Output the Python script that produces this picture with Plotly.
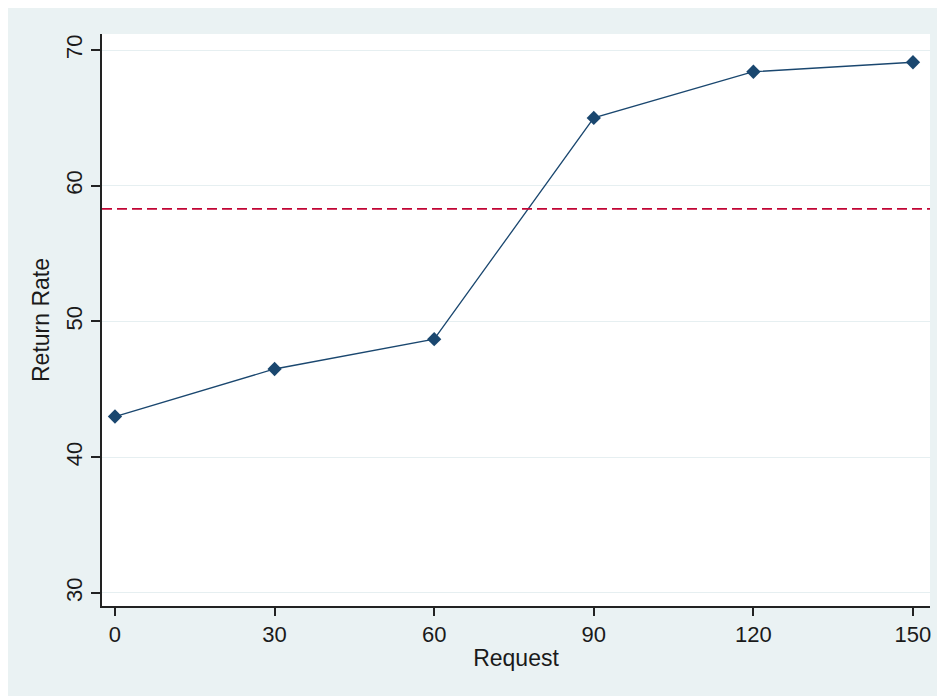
import plotly.graph_objects as go

request = [0, 30, 60, 90, 120, 150]
return_rate = [43.0, 46.5, 48.7, 65.0, 68.4, 69.1]
ref_value = 58.3
y_ticks = [30, 40, 50, 60, 70]
x_ticks = [0, 30, 60, 90, 120, 150]

# page body has an 8px margin, so the figure starts at (8, 8)
W, H = 937, 688
L, R, T, B = 94, 15, 26, 90

fig = go.Figure()
fig.add_trace(go.Scatter(
    x=request, y=return_rate, mode="lines+markers",
    line=dict(color="#1a476f", width=1.3),
    marker=dict(symbol="diamond", size=11, color="#1a476f"),
    showlegend=False, cliponaxis=False,
))

fig.add_hline(y=ref_value, line=dict(color="#c10534", width=1.6, dash="10px,5px"))

font = dict(family="Liberation Sans, Arial, sans-serif", size=22, color="#1a1a1a")

fig.update_layout(
    width=W, height=H,
    margin=dict(l=L, r=R, t=T, b=B),
    paper_bgcolor="#eaf2f3", plot_bgcolor="white",
    font=font,
    xaxis=dict(
        range=[-2.44, 153.2], tickvals=x_ticks, showgrid=False, zeroline=False,
        showline=True, linecolor="#222222", linewidth=1.5, mirror=False,
        ticks="outside", ticklen=8, tickcolor="#222222", tickwidth=1.5,
        title=dict(text="Request", standoff=4, font=dict(size=23)),
    ),
    yaxis=dict(
        range=[29.04, 71.18], tickvals=y_ticks,
        showgrid=True, gridcolor="#e6eff1",
        gridwidth=1.2, zeroline=False,
        showline=True, linecolor="#222222", linewidth=1.5,
        ticks="outside", ticklen=9, tickcolor="#222222", tickwidth=1.5,
        tickangle=-90,
        title=dict(text="Return Rate", standoff=6, font=dict(size=23)),
    ),
)

fig.write_html("out.html")
